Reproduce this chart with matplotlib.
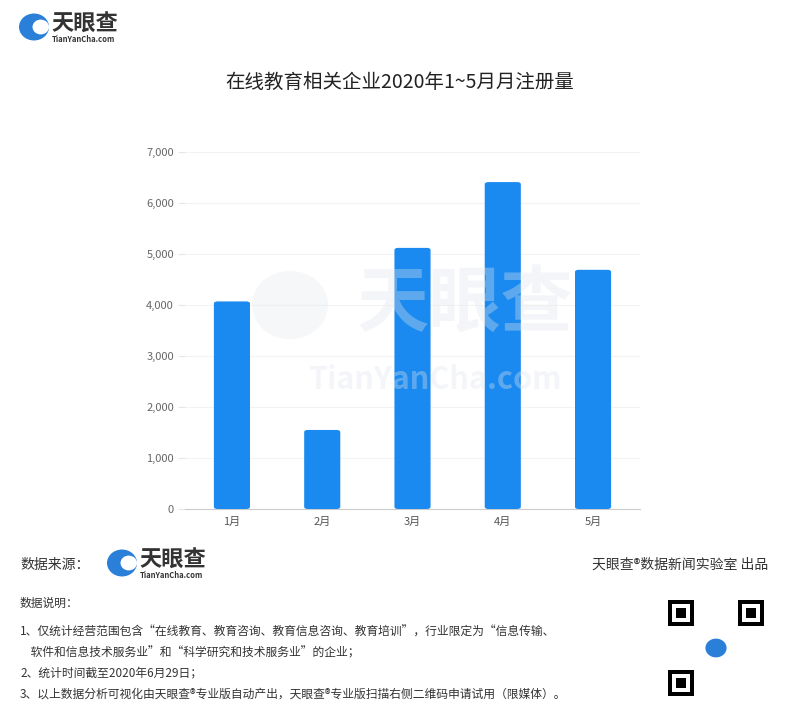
import matplotlib as mpl
mpl.use("Agg")
import matplotlib.pyplot as plt
from matplotlib.patches import FancyBboxPatch, Circle, Rectangle
import numpy as np

plt.rcParams['font.family'] = ['Noto Sans CJK SC', 'DejaVu Sans']

# data
months = ['1月', '2月', '3月', '4月', '5月']
counts = [4070, 1550, 5120, 6410, 4690]
yticks = [0, 1000, 2000, 3000, 4000, 5000, 6000, 7000]

title = '在线教育相关企业2020年1~5月月注册量'
notes = [
    '1、仅统计经营范围包含“在线教育、教育咨询、教育信息咨询、教育培训”，行业限定为“信息传输、',
    '    软件和信息技术服务业”和“科学研究和技术服务业”的企业；',
    '2、统计时间截至2020年6月29日；',
    '3、以上数据分析可视化由天眼查®专业版自动产出，天眼查®专业版扫描右侧二维码申请试用（限媒体）。',
]

W, H = 800, 719
fig = plt.figure(figsize=(W / 100, H / 100), dpi=100)
fig.patch.set_facecolor('white')

def fx(px):
    return px / W

def fy(py):
    return 1 - py / H

ax = fig.add_axes([fx(185), fy(509), fx(640) - fx(185), fy(152) - fy(509)])
ax.set_facecolor('none')
x = np.arange(len(months))
bw = 0.4
for xi, v in zip(x, counts):
    ax.add_patch(FancyBboxPatch((xi - bw / 2, 0), bw, v,
                                boxstyle='round,pad=0,rounding_size=0.04',
                                mutation_aspect=7000 / 5.0 * 357 / 455,
                                fc='#1a8af0', ec='none', zorder=3))
ax.set_xlim(-0.52, 4.52)
ax.set_ylim(0, 7000)
ax.set_xticks(x)
ax.set_xticklabels(months)
ax.set_yticks(yticks)
ax.set_yticklabels(['{:,}'.format(t) for t in yticks])
ax.tick_params(axis='x', length=0, colors='#555555', labelsize=8, pad=6)
ax.tick_params(axis='y', length=5, color='#e6e6e6', colors='#666666', labelsize=8, pad=3)
ax.grid(axis='y', color='#f3f3f3', linewidth=0.8, zorder=0)
for s in ['top', 'right', 'left']:
    ax.spines[s].set_visible(False)
ax.spines['bottom'].set_color('#cccccc')
ax.spines['bottom'].set_linewidth(0.8)

# watermark, faint, over the chart
wm = dict(color='#dfe5ec', alpha=0.35, ha='center', va='center', zorder=10)
fig.text(fx(465), fy(305), '天眼查', fontsize=52, fontweight='bold', **wm)
fig.text(fx(435), fy(380), 'TianYanCha.com', fontsize=22, fontweight='bold',
         style='italic', **wm)
fig.patches.append(Circle((fx(290), fy(305)), 38 / W, transform=fig.transFigure,
                          fc='#dfe5ec', alpha=0.3, ec='none', zorder=10))

# title
fig.text(fx(400), fy(82), title, fontsize=14, color='#222222', ha='center', va='center')

# logos
def logo(cx, cy, r, size_big, size_small):
    fig.patches.append(Circle((fx(cx), fy(cy)), r / W, transform=fig.transFigure,
                              fc='#2a7fd9', ec='none'))
    fig.patches.append(Circle((fx(cx + r * 0.45), fy(cy)), r * 0.55 / W, transform=fig.transFigure,
                              fc='white', ec='none'))
    fig.text(fx(cx + r + 2), fy(cy - 3), '天眼查', fontsize=size_big, fontweight='bold',
             color='#333333', ha='left', va='center')
    fig.text(fx(cx + r + 3), fy(cy + r * 0.85), 'TianYanCha.com', fontsize=size_small,
             fontweight='bold', color='#333333', ha='left', va='center')

logo(34, 27, 15, 16, 5.5)
logo(122, 563, 15, 16, 5.5)

# footer
fig.text(fx(20), fy(565), '数据来源：', fontsize=10, color='#333333', ha='left', va='center')
fig.text(fx(768), fy(565), '天眼查®数据新闻实验室 出品', fontsize=10, color='#333333',
         ha='right', va='center')
fig.text(fx(20), fy(603), '数据说明：', fontsize=8.5, color='#333333', ha='left', va='center')
ys = [632, 653, 673, 694]
for yy, t in zip(ys, notes):
    fig.text(fx(20), fy(yy), t, fontsize=8.5, color='#333333', ha='left', va='center')

# QR code placeholder
qx0, qy0, qs = 668, 600, 96
for (ox, oy) in [(0, 0), (qs - 26, 0), (0, qs - 26)]:
    fig.patches.append(Rectangle((fx(qx0 + ox), fy(qy0 + oy + 26)), 26 / W, 26 / H,
                                 transform=fig.transFigure, fc='black', ec='none'))
    fig.patches.append(Rectangle((fx(qx0 + ox + 4), fy(qy0 + oy + 22)), 18 / W, 18 / H,
                                 transform=fig.transFigure, fc='white', ec='none'))
    fig.patches.append(Rectangle((fx(qx0 + ox + 8), fy(qy0 + oy + 18)), 10 / W, 10 / H,
                                 transform=fig.transFigure, fc='black', ec='none'))
fig.patches.append(Circle((fx(qx0 + qs / 2), fy(qy0 + qs / 2)), 12 / W,
                          transform=fig.transFigure, fc='#2a7fd9', ec='white', lw=2))

fig.savefig('out.png', dpi=100, facecolor='white')
